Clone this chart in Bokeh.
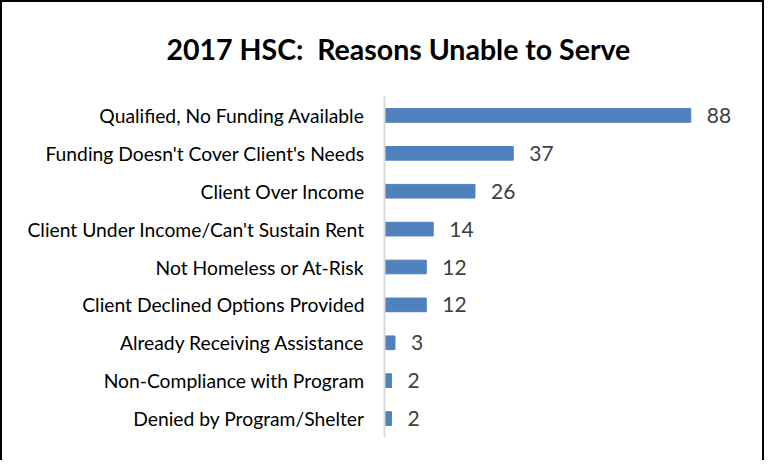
from bokeh.plotting import figure
from bokeh.models import ColumnDataSource, FactorRange, Range1d
from bokeh.core.properties import value
from bokeh.embed import file_html
from bokeh.resources import INLINE

categories = [
    "Qualified, No Funding Available",
    "Funding Doesn't Cover Client's Needs",
    "Client Over Income",
    "Client Under Income/Can't Sustain Rent",
    "Not Homeless or At-Risk",
    "Client Declined Options Provided",
    "Already Receiving Assistance",
    "Non-Compliance with Program",
    "Denied by Program/Shelter",
]
counts = [88, 37, 26, 14, 12, 12, 3, 2, 2]
title_text = "2017 HSC:\u00a0 Reasons Unable to Serve"

FONT = "Lato"

src = ColumnDataSource(dict(cat=categories, val=counts, lab=[str(v) for v in counts]))

p = figure(
    width=764, height=460,
    y_range=FactorRange(*list(reversed(categories)), range_padding=0),
    x_range=Range1d(0, 100),
    output_backend="svg", toolbar_location=None,
    min_border_left=382, min_border_right=34, min_border_top=93, min_border_bottom=25,
    title=title_text,
)
p.styles = {"border-top": "2px solid black", "border-left": "2px solid black",
            "border-right": "2px solid black"}
p.title.align = "left"
p.title.offset = -218
p.title.vertical_align = "top"
p.title.text_font = FONT
p.title.text_font_size = "28.5px"
p.title.text_font_style = "bold"
p.title.text_color = "black"
p.title.standoff = 58

p.hbar(y="cat", right="val", left=0, height=0.36, source=src,
       fill_color="#4F81BD", line_color="#4F81BD")
p.text(x="val", y="cat", text="lab", source=src, x_offset=16,
       text_font=value(FONT), text_font_size="21px", text_color="#404040",
       text_baseline="middle", text_align="left")

p.xaxis.visible = False
p.xgrid.visible = False
p.ygrid.visible = False
p.outline_line_color = None
p.yaxis.axis_line_color = "#D9D9D9"
p.yaxis.axis_line_width = 2
p.yaxis.major_tick_line_color = None
p.yaxis.minor_tick_line_color = None
p.yaxis.major_label_text_font = FONT
p.yaxis.major_label_text_font_size = "19.3px"
p.yaxis.major_label_text_color = "black"
p.yaxis.major_label_standoff = 14

open("out.html", "w").write(file_html(p, INLINE))
